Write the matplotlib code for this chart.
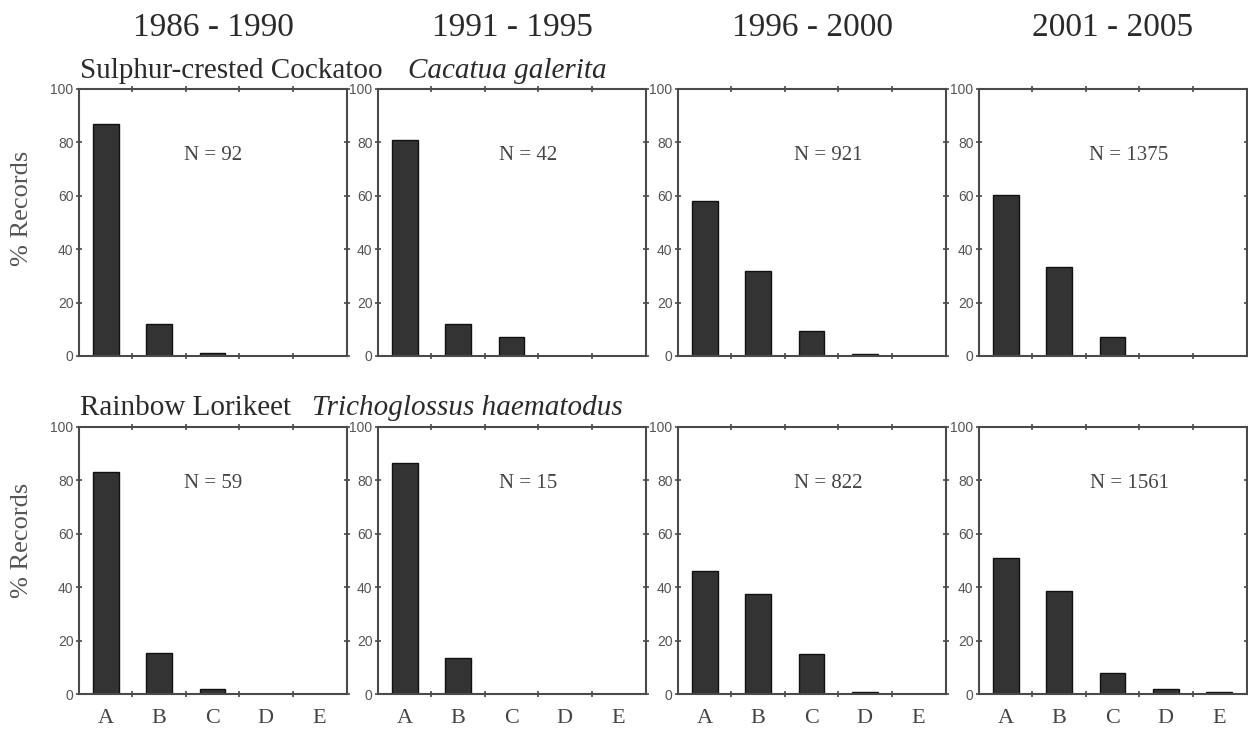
import matplotlib
matplotlib.use("Agg")
import matplotlib.pyplot as plt
import numpy as np

categories = ["A", "B", "C", "D", "E"]
periods = ["1986 - 1990", "1991 - 1995", "1996 - 2000", "2001 - 2005"]
species_common = ["Sulphur-crested Cockatoo", "Rainbow Lorikeet"]
species_latin = ["Cacatua galerita", "Trichoglossus haematodus"]

cockatoo_1986 = [87.0, 12.0, 1.1, 0, 0]
cockatoo_1991 = [81.0, 11.9, 7.1, 0, 0]
cockatoo_1996 = [58.0, 31.8, 9.2, 0.8, 0]
cockatoo_2001 = [60.2, 33.4, 7.3, 0, 0]
lorikeet_1986 = [83.1, 15.2, 1.8, 0, 0]
lorikeet_1991 = [86.7, 13.3, 0, 0, 0]
lorikeet_1996 = [45.9, 37.4, 14.8, 0.8, 0]
lorikeet_2001 = [50.8, 38.7, 7.8, 2.0, 0.8]

n_cockatoo = [92, 42, 921, 1375]
n_lorikeet = [59, 15, 822, 1561]

yticks = [0, 20, 40, 60, 80, 100]

data = [[cockatoo_1986, cockatoo_1991, cockatoo_1996, cockatoo_2001],
        [lorikeet_1986, lorikeet_1991, lorikeet_1996, lorikeet_2001]]
ns = [n_cockatoo, n_lorikeet]

W, H = 1248, 729
fig = plt.figure(figsize=(W / 100, H / 100), dpi=100)

serif = "Liberation Serif"
sans = "Liberation Sans"
spine_col = "#4a4a4a"
txt_col = "#2a2a2a"

lefts = [79, 378, 678, 979]
tops = [89, 427]
aw, ah = 268, 267

x = np.arange(1, len(categories) + 1)
for r in range(2):
    for c in range(4):
        ax = fig.add_axes([lefts[c] / W, 1 - (tops[r] + ah) / H, aw / W, ah / H])
        ax.bar(x, data[r][c], width=0.48, color="#333333", edgecolor="#111111", linewidth=1.0)
        ax.set_xlim(0.5, 5.52)
        ax.set_ylim(0, 100)
        ax.set_yticks(yticks)
        ax.set_yticklabels([str(v) for v in yticks], fontfamily=sans, fontsize=10, color="#555555")
        ax.set_xticks(x)
        if r == 1:
            ax.set_xticklabels(categories, fontfamily=serif, fontsize=16, color="#444444")
        else:
            ax.set_xticklabels([])
        ax.tick_params(axis="x", which="major", length=0, pad=11)
        ax.set_xticks(x[:-1] + 0.5, minor=True)
        ax.tick_params(axis="x", which="minor", direction="inout", length=4, width=1.2,
                       top=True, bottom=True, color=spine_col)
        ax.tick_params(axis="y", direction="inout", length=4, width=1.2, left=True, right=True,
                       color=spine_col, pad=2)
        for s in ax.spines.values():
            s.set_color(spine_col)
            s.set_linewidth(1.5)
        xpos = 0.5 if c == 0 else 0.56
        ypos = 0.75 if r == 0 else 0.79
        ax.text(xpos, ypos, f"N = {ns[r][c]}", transform=ax.transAxes, ha="center", va="center",
                fontfamily=serif, fontsize=15, color="#444444")

ylabel_y = [208, 540]
for r in range(2):
    fig.text(22 / W, 1 - ylabel_y[r] / H, "% Records", rotation=90, ha="center",
             va="center", fontfamily=serif, fontsize=19, color="#555555")

for c in range(4):
    fig.text((lefts[c] + aw / 2) / W, 1 - 28 / H, periods[c], ha="center", va="center",
             fontfamily=serif, fontsize=24, color=txt_col)

label_y = [78, 415]
latin_x = [408, 312]
for r in range(2):
    fig.text(80 / W, 1 - label_y[r] / H, species_common[r], ha="left", va="baseline",
             fontfamily=serif, fontsize=21, color=txt_col)
    fig.text(latin_x[r] / W, 1 - label_y[r] / H, species_latin[r], ha="left", va="baseline",
             fontfamily=serif, fontsize=21, style="italic", color=txt_col)

fig.savefig("out.png", dpi=100, facecolor="white")
